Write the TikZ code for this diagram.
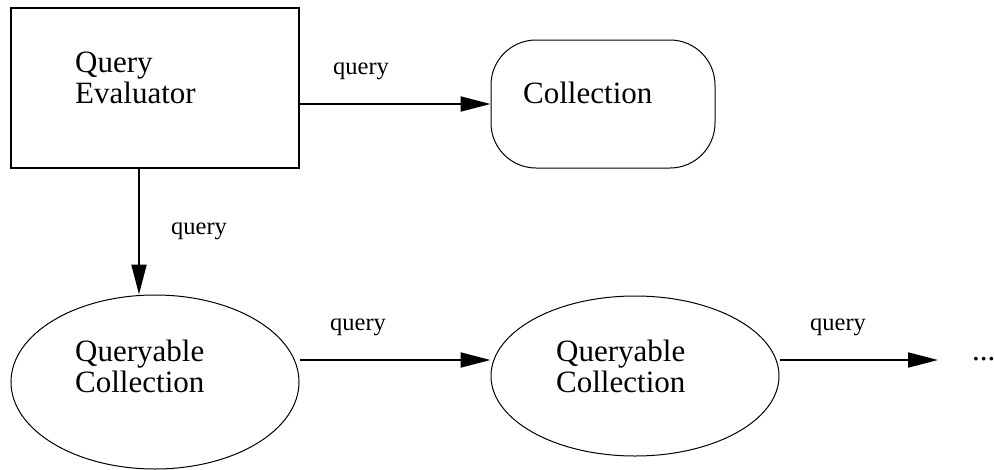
\documentclass[tikz,border=0pt]{standalone}
\usepackage{fontspec}
\setmainfont{Liberation Serif}
\usetikzlibrary{arrows.meta,shapes.geometric}

\tikzset{
  big/.style={font=\rmfamily\fontsize{31pt}{31pt}\selectfont, inner sep=0pt, align=left, anchor=base west},
  small/.style={font=\rmfamily\fontsize{24.5pt}{26pt}\selectfont, inner sep=0pt, anchor=base west},
  evalbox/.style={draw, line width=2pt, minimum width=288pt, minimum height=160pt},
  collbox/.style={draw, line width=1pt, rounded corners=45pt, minimum width=224pt, minimum height=128pt},
  qcoll/.style={draw, ellipse, line width=1pt, minimum width=288pt},
  flow/.style={line width=2pt, -{Triangle[length=30pt,width=15pt]}}
}

\begin{document}
\begin{tikzpicture}[x=1pt,y=-1pt]
\useasboundingbox (0,0) rectangle (994,469);
\node [evalbox] (QE) at (155,88) {};
\node [collbox] (Coll) at (603,104) {};
\node [qcoll, minimum height=174pt] (QC1) at (155,382) {};
\node [qcoll, minimum height=160pt] (QC2) at (635,376) {};
\node [big] (QEtext) at (75,103) {Query\\Evaluator};
\node [big] (Colltext) at (523,103) {Collection};
\node [big] (QC1text) at (75,392) {Queryable\\Collection};
\node [big] (QC2text) at (556,392) {Queryable\\Collection};
\node [big] (more) at (972,360) {...};
\coordinate (down) at (139,0);
\coordinate (row) at (0,360);
\coordinate (tail) at (938,360);
\draw [flow] (QE.east |- Coll.west) -- (Coll.west);
\draw [flow] (QE.south -| down) -- (QC1.north -| down);
\draw [flow] (QC1.east |- row) -- (QC2.west |- row);
\draw [flow] (QC2.east |- row) -- (tail);
\node [small] at (333,74) {query};
\node [small] at (171,234) {query};
\node [small] at (330,330) {query};
\node [small] at (810,330) {query};
\end{tikzpicture}
\end{document}
